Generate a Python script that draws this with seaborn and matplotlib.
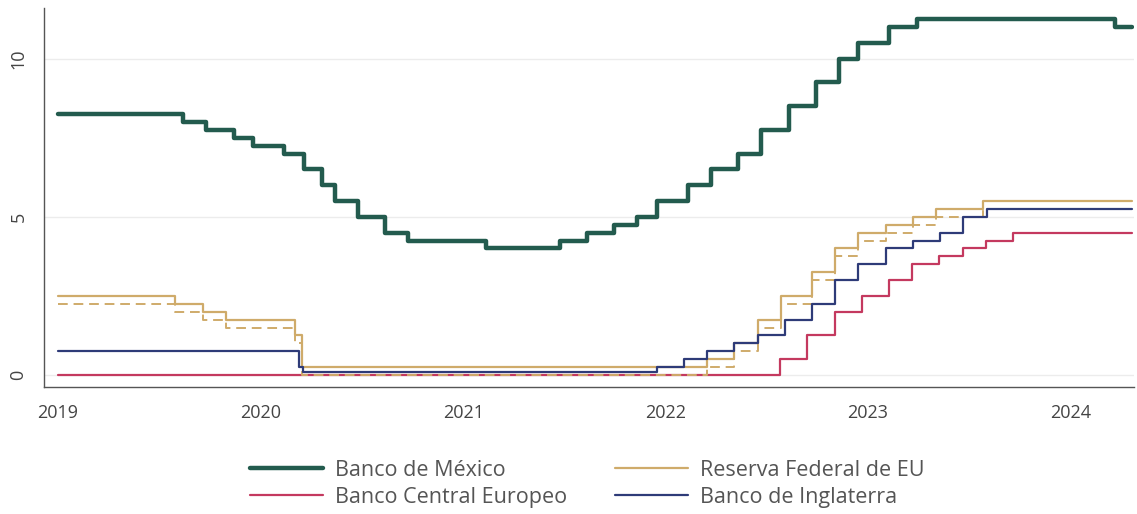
import pandas as pd
import matplotlib
matplotlib.use("Agg")
import matplotlib.pyplot as plt
import matplotlib.dates as mdates
from matplotlib.lines import Line2D
import seaborn as sns

# ------------------ Data (policy rate changes, %) ------------------
fin = "2024-04-22"

banxico_fechas = ["2019-01-01", "2019-08-15", "2019-09-26", "2019-11-14", "2019-12-19",
                  "2020-02-13", "2020-03-20", "2020-04-21", "2020-05-14", "2020-06-25",
                  "2020-08-13", "2020-09-24", "2021-02-11", "2021-06-24", "2021-08-12",
                  "2021-09-30", "2021-11-11", "2021-12-16", "2022-02-10", "2022-03-24",
                  "2022-05-12", "2022-06-23", "2022-08-11", "2022-09-29", "2022-11-10",
                  "2022-12-15", "2023-02-09", "2023-03-30", "2024-03-21"]
banxico_tasas = [8.25, 8.00, 7.75, 7.50, 7.25, 7.00, 6.50, 6.00, 5.50, 5.00,
                 4.50, 4.25, 4.00, 4.25, 4.50, 4.75, 5.00, 5.50, 6.00, 6.50,
                 7.00, 7.75, 8.50, 9.25, 10.00, 10.50, 11.00, 11.25, 11.00]

fed_fechas = ["2019-01-01", "2019-08-01", "2019-09-19", "2019-10-31", "2020-03-04",
              "2020-03-16", "2022-03-17", "2022-05-05", "2022-06-16", "2022-07-28",
              "2022-09-22", "2022-11-03", "2022-12-15", "2023-02-02", "2023-03-23",
              "2023-05-04", "2023-07-27"]
fed_sup = [2.50, 2.25, 2.00, 1.75, 1.25, 0.25, 0.50, 1.00, 1.75, 2.50,
           3.25, 4.00, 4.50, 4.75, 5.00, 5.25, 5.50]
fed_inf = [2.25, 2.00, 1.75, 1.50, 1.00, 0.00, 0.25, 0.75, 1.50, 2.25,
           3.00, 3.75, 4.25, 4.50, 4.75, 5.00, 5.25]

bce_fechas = ["2019-01-01", "2022-07-27", "2022-09-14", "2022-11-02", "2022-12-21",
              "2023-02-08", "2023-03-22", "2023-05-10", "2023-06-21", "2023-08-02",
              "2023-09-20"]
bce_tasas = [0.00, 0.50, 1.25, 2.00, 2.50, 3.00, 3.50, 3.75, 4.00, 4.25, 4.50]

boe_fechas = ["2019-01-01", "2020-03-11", "2020-03-19", "2021-12-16", "2022-02-03",
              "2022-03-17", "2022-05-05", "2022-06-16", "2022-08-04", "2022-09-22",
              "2022-11-03", "2022-12-15", "2023-02-02", "2023-03-23", "2023-05-11",
              "2023-06-22", "2023-08-03"]
boe_tasas = [0.75, 0.25, 0.10, 0.25, 0.50, 0.75, 1.00, 1.25, 1.75, 2.25,
             3.00, 3.50, 4.00, 4.25, 4.50, 5.00, 5.25]

verde = "#235b4e"
guinda = "#c4395f"
dorado = "#cfab6a"
azul = "#2e3b78"


def serie(fechas, tasas):
    # extend the last value to the end date so the step reaches the edge
    df = pd.DataFrame({"fecha": pd.to_datetime(fechas + [fin]),
                       "tasa": tasas + [tasas[-1]]})
    return df


# ------------------ Plot ------------------
sns.set_style("white")
plt.rcParams["font.family"] = ["Open Sans", "DejaVu Sans"]

fig = plt.figure(figsize=(11.37, 5.14), dpi=100)
ax = fig.add_axes([44 / 1137, 1 - 387 / 514, 1090 / 1137, 379 / 514])

ax.axhline(0, color="#ececec", lw=1, zorder=0)
ax.axhline(5, color="#ececec", lw=1, zorder=0)
ax.axhline(10, color="#ececec", lw=1, zorder=0)

sns.lineplot(data=serie(bce_fechas, bce_tasas), x="fecha", y="tasa", ax=ax,
             color=guinda, lw=1.6, drawstyle="steps-post")
sns.lineplot(data=serie(fed_fechas, fed_inf), x="fecha", y="tasa", ax=ax,
             color=dorado, lw=1.4, ls=(0, (5, 3)), drawstyle="steps-post")
sns.lineplot(data=serie(fed_fechas, fed_sup), x="fecha", y="tasa", ax=ax,
             color=dorado, lw=1.6, drawstyle="steps-post")
sns.lineplot(data=serie(boe_fechas, boe_tasas), x="fecha", y="tasa", ax=ax,
             color=azul, lw=1.6, drawstyle="steps-post")
sns.lineplot(data=serie(banxico_fechas, banxico_tasas), x="fecha", y="tasa", ax=ax,
             color=verde, lw=3.2, drawstyle="steps-post")

ax.set_xlim(pd.Timestamp("2018-12-07"), pd.Timestamp("2024-04-25"))
ax.set_ylim(-0.38, 11.6)
ax.set_xlabel("")
ax.set_ylabel("")

ax.xaxis.set_major_locator(mdates.YearLocator())
ax.xaxis.set_major_formatter(mdates.DateFormatter("%Y"))
ax.set_yticks([0, 5, 10])
ax.set_yticklabels(["0", "5", "10"], rotation=90, va="center")
ax.tick_params(axis="both", direction="out", length=5, width=1, color="#555555",
               labelsize=13, labelcolor="#444444", pad=7)

sns.despine(ax=ax)
for s in ["left", "bottom"]:
    ax.spines[s].set_color("#555555")
    ax.spines[s].set_linewidth(1)

handles = [Line2D([], [], color=verde, lw=3.2),
           Line2D([], [], color=guinda, lw=1.6),
           Line2D([], [], color=dorado, lw=1.6),
           Line2D([], [], color=azul, lw=1.6)]
etiquetas = ["Banco de México", "Banco Central Europeo",
             "Reserva Federal de EU", "Banco de Inglaterra"]
em = 15.5 * 100 / 72
fig.legend(handles, etiquetas, ncol=2, loc="center", bbox_to_anchor=(587 / 1137, 30 / 514),
           frameon=False, fontsize=15.5, handlelength=73 / em, handletextpad=12 / em,
           columnspacing=48 / em, labelspacing=0.28, labelcolor="#555555",
           borderpad=0)

fig.savefig("out.png", dpi=100)
